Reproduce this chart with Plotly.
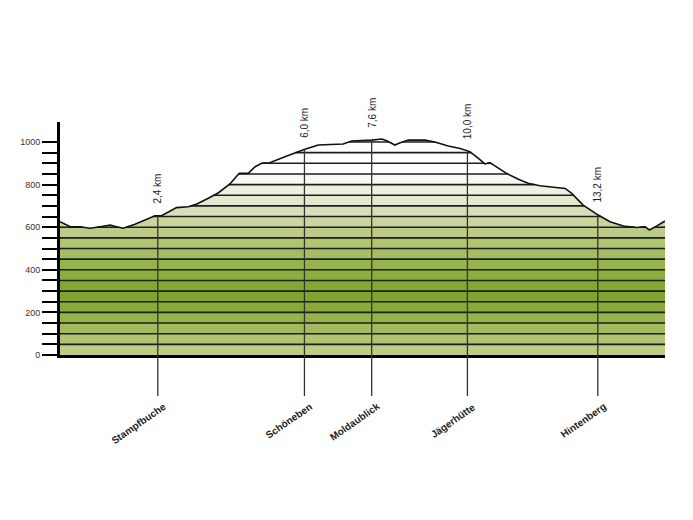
import numpy as np
import plotly.graph_objects as go

# ---- data ----
dist_km = [0.0, 0.25, 0.49, 0.74, 0.98, 1.23, 1.39, 1.55, 1.84, 2.13, 2.33, 2.48, 2.70, 2.86,
           3.15, 3.36, 3.64, 3.89, 4.17, 4.40, 4.62, 4.79, 4.95, 5.15, 5.52, 5.85, 6.01, 6.34,
           6.67, 6.95, 7.16, 7.41, 7.65, 7.90, 8.02, 8.22, 8.35, 8.55, 8.96, 9.20, 9.53, 9.82,
           10.06, 10.27, 10.43, 10.55, 10.72, 10.96, 11.25, 11.49, 11.78, 12.11, 12.40, 12.56,
           12.84, 13.21, 13.50, 13.83, 14.16, 14.36, 14.47, 14.65, 14.85]
elev_m = [626, 602, 602, 595, 602, 610, 602, 595, 614, 637, 654, 653, 676, 692,
          696, 709, 736, 762, 803, 853, 853, 884, 900, 903, 931, 955, 966, 986,
          988, 991, 1005, 1006, 1009, 1014, 1006, 986, 997, 1009, 1009, 1000, 981, 970,
          955, 923, 897, 903, 881, 853, 825, 806, 795, 787, 782, 759,
          704, 657, 626, 606, 599, 602, 587, 606, 629]

marker_km = [2.4, 6.0, 7.65, 10.0, 13.2]
marker_km_text = ["2,4 km", "6,0 km", "7,6 km", "10,0 km", "13,2 km"]
marker_names = ["Stampfbuche", "Schöneben", "Moldaublick", "Jägerhütte", "Hintenberg"]

y_major = [0, 200, 400, 600, 800, 1000]
y_minor = [50, 100, 150, 250, 300, 350, 450, 500, 550, 650, 700, 750, 850, 900, 950]

band_step = 50
band_colors = ["#becd84", "#b1c470", "#a3bb5c", "#95b348", "#88ab38", "#80a42f", "#84a833",
               "#8cae3c", "#97b44b", "#a4bd60", "#b0c472", "#bccc88", "#c9d59d", "#d6dfb8",
               "#e3e8cf", "#eef1e1", "#f8f9f2", "#ffffff", "#ffffff", "#ffffff", "#ffffff"]

YMAX = 1094
XMAX = 14.85
FONT = "Liberation Sans, Arial, sans-serif"

# ---- geometry helpers (insert level crossings so clipped bands are exact) ----
levels = [band_step * k for k in range(1, len(band_colors) + 1)]
xs = np.array(dist_km, float)
ys = np.array(elev_m, float)
X = [xs[0]]
Y = [ys[0]]
for i in range(len(xs) - 1):
    x0, y0, x1, y1 = xs[i], ys[i], xs[i + 1], ys[i + 1]
    cr = []
    for L in levels:
        if (y0 - L) * (y1 - L) < 0:
            t = (L - y0) / (y1 - y0)
            cr.append((x0 + t * (x1 - x0), L))
    cr.sort()
    for cx, cy in cr:
        X.append(cx)
        Y.append(cy)
    X.append(x1)
    Y.append(y1)
X = np.array(X)
Y = np.array(Y)

fig = go.Figure()

# bands
for k, col in enumerate(band_colors):
    top = band_step * (k + 1)
    fig.add_trace(go.Scatter(
        x=X, y=np.minimum(Y, top), mode="lines",
        line=dict(width=0, color=col), fillcolor=col,
        fill="tozeroy" if k == 0 else "tonexty",
        hoverinfo="skip", showlegend=False))

# horizontal band lines clipped to the profile
hx, hy = [], []
for L in levels:
    if L > Y.max():
        break
    for xv, yv in zip(X, Y):
        if yv >= L - 1e-9:
            hx.append(xv)
            hy.append(L)
        else:
            hx.append(None)
            hy.append(None)
    hx.append(None)
    hy.append(None)
fig.add_trace(go.Scatter(x=hx, y=hy, mode="lines", line=dict(color="#1e1e1e", width=1.6),
                         hoverinfo="skip", showlegend=False, connectgaps=False))

# profile outline
fig.add_trace(go.Scatter(x=dist_km, y=elev_m, mode="lines",
                         line=dict(color="#111111", width=1.6),
                         hoverinfo="skip", showlegend=False))

# markers
W, H = 685, 512
M_L, M_R, M_T, M_B = 52, 28, 114, 165
plot_h = H - M_T - M_B
below = -41 / plot_h
for km, txt, name in zip(marker_km, marker_km_text, marker_names):
    e = float(np.interp(km, xs, ys))
    fig.add_shape(type="line", xref="x", yref="paper", x0=km, x1=km,
                  y0=below, y1=e / YMAX, line=dict(color="#333333", width=1.3))
    fig.add_annotation(x=km, y=e, xref="x", yref="y", text=txt, showarrow=False,
                       textangle=-90, xanchor="center", yanchor="bottom", yshift=10,
                       font=dict(family=FONT, size=10, color="#222222"))
    fig.add_annotation(x=km, y=below, xref="x", yref="paper", text=name, showarrow=False,
                       textangle=-35, xanchor="right", yanchor="top", xshift=13, yshift=-2,
                       font=dict(family=FONT, size=10, color="#222222", weight="bold"))

fig.update_layout(
    width=W, height=H,
    margin=dict(l=M_L, r=M_R, t=M_T, b=M_B),
    paper_bgcolor="white", plot_bgcolor="white",
    showlegend=False, hovermode=False,
    xaxis=dict(range=[0, XMAX], showgrid=False, zeroline=False, showticklabels=False,
               ticks="", showline=True, linecolor="black", linewidth=3),
    yaxis=dict(range=[0, YMAX], showgrid=False, zeroline=False,
               tickvals=y_major, ticks="outside", ticklen=15, tickwidth=2, tickcolor="black",
               tickfont=dict(family=FONT, size=9, color="#333333"),
               showline=True, linecolor="black", linewidth=3,
               minor=dict(tickvals=y_minor, ticks="outside", ticklen=15, tickwidth=2,
                          tickcolor="black", showgrid=False)),
)

fig.write_html("out.html")
